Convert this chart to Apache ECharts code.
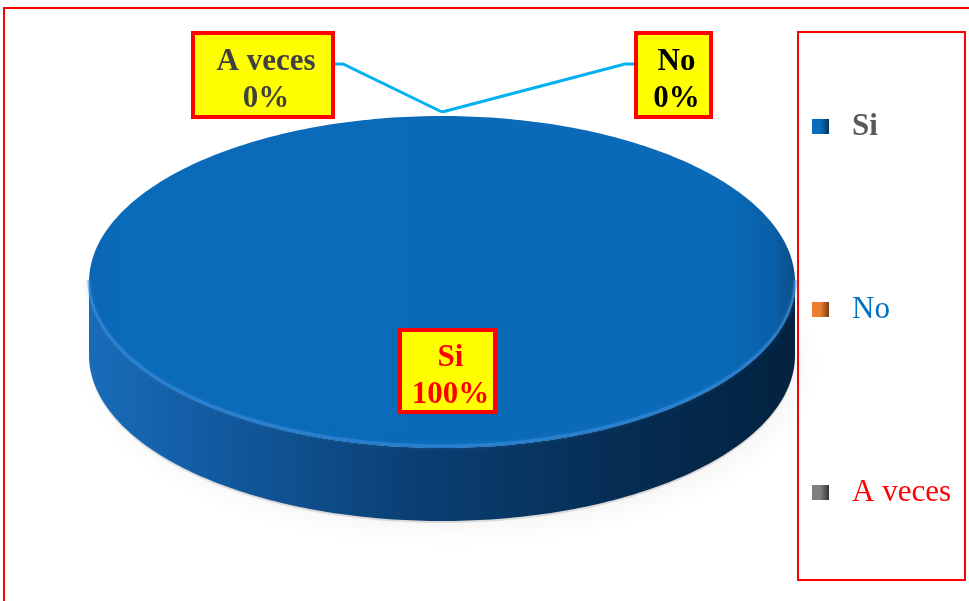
<!DOCTYPE html>
<html>
<head>
<meta charset="utf-8">
<script src="https://cdn.jsdelivr.net/npm/echarts@6/dist/echarts.min.js"></script>
<style>html,body{margin:0;padding:0;background:#fff}#chart{width:969px;height:601px}</style>
</head>
<body>
<div id="chart"></div>
<script>
// ---- data ----
const categories = ['Si', 'No', 'A veces'];
const values = [100, 0, 0];

// ---- styles / layout ----
const legendColors = ['#0B6CBB', '#ED7D31', '#7F7F7F'];
const legendDark = ['#06345E', '#7A3E14', '#333333'];
const legendTextColors = ['#595959', '#0070C0', '#FF0000'];
const legendBold = ['bold', 'normal', 'normal'];
const labelTextColors = ['#FF0000', '#000000', '#404040'];
const FONT = '"Liberation Serif", "Times New Roman", serif';
const CX = 442, CY = 282, RX = 353, RY = 166, DEPTH = 73;
const labelBoxes = [
  { box: [400, 330, 95, 82], inside: true },
  { box: [636, 33, 75, 84], elbow: [[625, 64], [636, 64]] },
  { box: [193, 33, 140, 84], elbow: [[343, 64], [333, 64]] }
];

const total = values.reduce((a, b) => a + b, 0);
function pt(theta, dy) {
  return [CX + RX * Math.sin(theta), CY - RY * Math.cos(theta) + (dy || 0)];
}
function arc(a, b, dy, n) {
  const pts = [];
  n = n || Math.max(2, Math.ceil((b - a) / (Math.PI / 180)));
  for (let k = 0; k <= n; k++) pts.push(pt(a + (b - a) * k / n, dy));
  return pts;
}

function makeRender(i) {
  return function (params, api) {
    const v = api.value(0);
    let before = 0;
    for (let j = 0; j < i; j++) before += values[j];
    const a0 = before / total * Math.PI * 2;
    const a1 = (before + v) / total * Math.PI * 2;
    const children = [];
    const full = (a1 - a0) >= Math.PI * 2 - 1e-6;
    if (a1 - a0 > 1e-9) {
      if (full) {
        children.push({
          type: 'polygon',
          shape: { points: arc(0, Math.PI * 2, DEPTH + 2, 360) },
          style: { fill: 'rgba(0,0,0,0.12)', shadowBlur: 24, shadowColor: 'rgba(0,0,0,0.35)', shadowOffsetX: 8, shadowOffsetY: 7 }
        });
      }
      const s0 = Math.max(a0, Math.PI / 2), s1 = Math.min(a1, Math.PI * 1.5);
      if (s1 > s0) {
        const topArc = arc(s0, s1, 0);
        const botArc = arc(s0, s1, DEPTH).reverse();
        children.push({
          type: 'polygon',
          shape: { points: topArc.concat(botArc) },
          style: {
            fill: {
              type: 'linear', x: 0, y: 0, x2: 1, y2: 0,
              colorStops: [
                { offset: 0, color: '#1A6CB8' },
                { offset: 0.1, color: '#1462AC' },
                { offset: 0.45, color: '#0B4075' },
                { offset: 0.75, color: '#062D53' },
                { offset: 1, color: '#03223F' }
              ]
            }
          }
        });
      }
      const topPts = full ? arc(0, Math.PI * 2, 0, 360) : [[CX, CY]].concat(arc(a0, a1, 0));
      children.push({
        type: 'polygon',
        shape: { points: topPts },
        style: {
          fill: {
            type: 'linear', x: 0, y: 0, x2: 1, y2: 0,
            colorStops: [
              { offset: 0, color: '#0A66B4' },
              { offset: 0.05, color: '#0A6BBA' },
              { offset: 0.9, color: '#0A6AB8' },
              { offset: 0.97, color: '#095FA6' },
              { offset: 1, color: '#0A4F88' }
            ]
          }
        }
      });
      if (s1 > s0) {
        children.push({
          type: 'polyline',
          shape: { points: arc(s0, s1, -2) },
          style: { stroke: 'rgba(60,140,220,0.6)', lineWidth: 3, fill: null, shadowBlur: 5, shadowColor: 'rgba(60,140,220,0.5)' }
        });
      }
    }
    const L = labelBoxes[i];
    const [bx, by, bw, bh] = L.box;
    if (!L.inside) {
      const mid = (a0 + a1) / 2;
      const anchor = pt(mid, -4);
      children.push({
        type: 'polyline',
        shape: { points: [anchor].concat(L.elbow) },
        style: { stroke: '#00B0F0', lineWidth: 3, fill: null }
      });
    }
    children.push({
      type: 'rect',
      shape: { x: bx, y: by, width: bw, height: bh },
      style: { fill: '#FFFF00', stroke: '#FF0000', lineWidth: 4 }
    });
    const pct = Math.round(v / total * 100) + '%';
    children.push({
      type: 'text',
      x: bx + bw / 2 + 3,
      y: by + bh / 2 + 5,
      style: {
        text: categories[i] + '\n' + pct,
        fill: labelTextColors[i],
        font: 'bold 31px ' + FONT,
        lineHeight: 37,
        align: 'center',
        verticalAlign: 'middle'
      }
    });
    return { type: 'group', children: children };
  };
}

const rich = {};
categories.forEach((c, i) => {
  rich['s' + i] = {
    color: legendTextColors[i],
    fontWeight: legendBold[i],
    fontFamily: FONT,
    fontSize: 31
  };
});

const chart = echarts.init(document.getElementById('chart'), null, { renderer: 'canvas' });
chart.setOption({
  backgroundColor: '#fff',
  animation: false,
  graphic: [
    { type: 'rect', shape: { x: 4, y: 8, width: 1000, height: 700 }, style: { fill: null, stroke: '#FF0000', lineWidth: 2 }, z: 0 },
    { type: 'rect', shape: { x: 798, y: 32, width: 167, height: 548 }, style: { fill: null, stroke: '#FF0000', lineWidth: 2 }, z: 0 }
  ],
  legend: {
    orient: 'vertical',
    left: 812,
    top: 111,
    padding: 0,
    itemWidth: 17,
    itemHeight: 15,
    itemGap: 152,
    icon: 'rect',
    selectedMode: false,
    formatter: function (name) {
      return '{s' + categories.indexOf(name) + '|' + name + '}';
    },
    textStyle: { fontFamily: FONT, fontSize: 31, padding: [0, 0, 0, 18], rich: rich },
    data: categories.map((c, i) => ({
      name: c,
      itemStyle: {
        color: {
          type: 'linear', x: 0, y: 0, x2: 1, y2: 0,
          colorStops: [
            { offset: 0, color: legendColors[i] },
            { offset: 0.5, color: legendColors[i] },
            { offset: 1, color: legendDark[i] }
          ]
        }
      }
    }))
  },
  series: categories.map((c, i) => ({
    type: 'custom',
    name: c,
    coordinateSystem: 'none',
    itemStyle: { color: legendColors[i] },
    z: 2 + i,
    data: [values[i]],
    renderItem: makeRender(i)
  }))
});
</script>
</body>
</html>
